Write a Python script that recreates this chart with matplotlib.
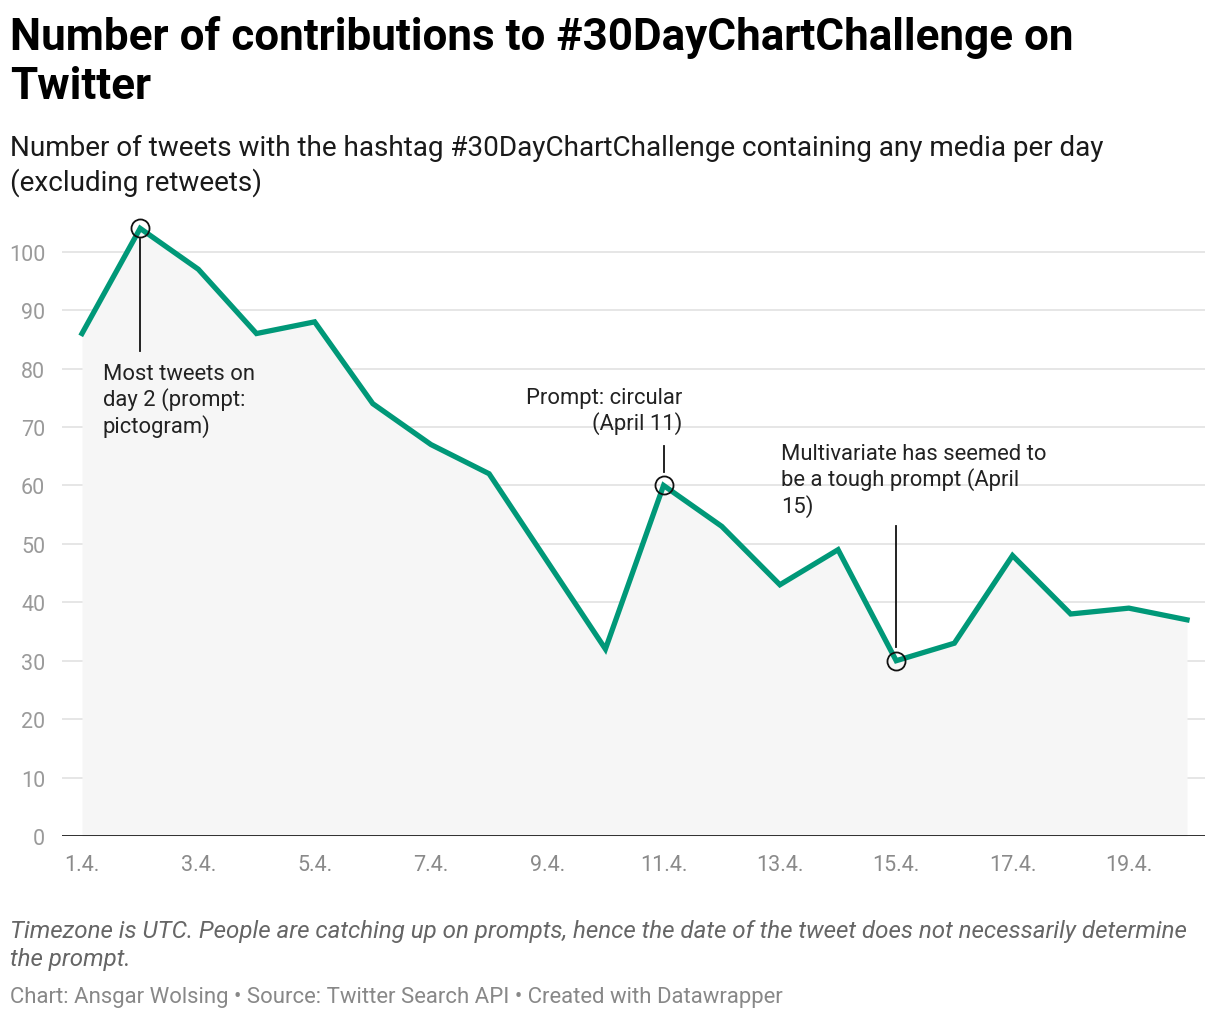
import matplotlib
matplotlib.use("Agg")
import matplotlib.pyplot as plt

plt.rcParams['font.family'] = ['Roboto', 'DejaVu Sans']

days = list(range(1, 21))
tweets = [86, 104, 97, 86, 88, 74, 67, 62, 47, 32, 60, 53, 43, 49, 30, 33, 48, 38, 39, 37]
tick_days = [1, 3, 5, 7, 9, 11, 13, 15, 17, 19]
tick_labels = [f"{d}.4." for d in tick_days]
yticks = [0, 10, 20, 30, 40, 50, 60, 70, 80, 90, 100]

ann_days = [2, 11, 15]
ann_values = [104, 60, 30]

W, H = 1220, 1020
fig = plt.figure(figsize=(W / 100, H / 100), dpi=100)
ax = fig.add_axes([62 / W, 1 - 837 / H, (1205 - 62) / W, (837 - 206) / H])

ax.set_xlim(1 - 20 / 58.16, 20 + 18 / 58.16)
ax.set_ylim(0, 108)

ax.fill_between(days, tweets, 0, color='#f6f6f6', zorder=1, lw=0)
for y in yticks[1:]:
    ax.axhline(y, color='#e2e2e2', lw=1.2, zorder=0.5)
ax.axhline(0, color='#1d1d1d', lw=2, zorder=3)
ax.plot(days, tweets, color='#009878', lw=3.8, zorder=4, solid_joinstyle='miter')

ax.plot(ann_days, ann_values, 'o', ms=13, mfc='none', mec='#111111', mew=1.3, zorder=5)

# annotation lines
ax.plot([2, 2], [102.2, 83.0], color='#111111', lw=1.3, zorder=5)
ax.plot([11, 11], [66.8, 62.3], color='#111111', lw=1.3, zorder=5)
ax.plot([15, 15], [53.0, 32.3], color='#111111', lw=1.3, zorder=5)

def px2data(xp, yp):
    x = 1 + (xp - 82) / 58.16
    y = (837 - yp) / 5.84
    return x, y

afs = 15.8
tx, ty = px2data(103, 364)
ax.text(tx, ty, "Most tweets on\nday 2 (prompt:\npictogram)", ha='left', va='top',
        fontsize=afs, color='#222222', linespacing=1.2, zorder=6)
tx, ty = px2data(682, 388)
ax.text(tx, ty, "Prompt: circular\n(April 11)", ha='right', va='top',
        fontsize=afs, color='#222222', linespacing=1.2, multialignment='right', zorder=6)
tx, ty = px2data(781, 444)
ax.text(tx, ty, "Multivariate has seemed to\nbe a tough prompt (April\n15)", ha='left', va='top',
        fontsize=afs, color='#222222', linespacing=1.2, zorder=6)

for s in ax.spines.values():
    s.set_visible(False)
ax.set_yticks(yticks)
ax.set_yticklabels([str(v) for v in yticks])
ax.set_xticks(tick_days)
ax.set_xticklabels(tick_labels)
ax.tick_params(axis='y', length=0, pad=12, labelsize=15.5, labelcolor='#9a9a9a')
ax.tick_params(axis='x', length=0, pad=13, labelsize=15.5, labelcolor='#8a8a8a')

fig.text(10 / W, 1 - 16 / H, "Number of contributions to #30DayChartChallenge on\nTwitter",
         ha='left', va='top', fontsize=31.7, fontweight='bold', color='#000000', linespacing=1.2)
fig.text(10 / W, 1 - 135 / H, "Number of tweets with the hashtag #30DayChartChallenge containing any media per day\n(excluding retweets)",
         ha='left', va='top', fontsize=20.1, color='#1a1a1a', linespacing=1.27)
fig.text(10 / W, 1 - 920 / H, "Timezone is UTC. People are catching up on prompts, hence the date of the tweet does not necessarily determine\nthe prompt.",
         ha='left', va='top', fontsize=17.4, style='italic', color='#666666', linespacing=1.3)
fig.text(10 / W, 1 - 987 / H, "Chart: Ansgar Wolsing • Source: Twitter Search API • Created with Datawrapper",
         ha='left', va='top', fontsize=15.9, color='#888888')

fig.savefig("out.png", dpi=100, facecolor='white')
